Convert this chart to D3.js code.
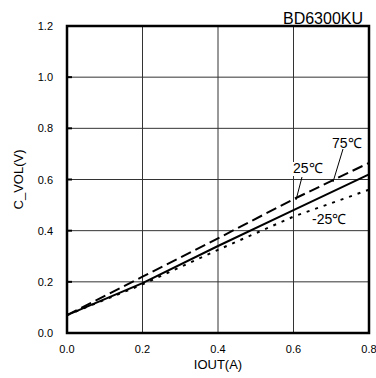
<!DOCTYPE html>
<html>
<head>
<meta charset="utf-8">
<script src="https://cdn.jsdelivr.net/npm/d3@7"></script>
<style>
  body { margin: 0; background: #fff; }
  svg { font-family: "Liberation Sans", Arial, sans-serif; }
</style>
</head>
<body>
<svg id="chart" width="376" height="378"></svg>
<script>
// values
const iout = [0.0, 0.2, 0.4, 0.6, 0.8];
const vol25 = [0.07, 0.195, 0.34, 0.48, 0.62];
const vol75 = [0.07, 0.22, 0.37, 0.523, 0.665];
const volM25 = [0.07, 0.19, 0.325, 0.455, 0.56];
const xTicks = [0.0, 0.2, 0.4, 0.6, 0.8];
const yTicks = [0.0, 0.2, 0.4, 0.6, 0.8, 1.0, 1.2];

const plotL = 67, plotR = 369, plotT = 26, plotB = 333;
const xs = d3.scaleLinear().domain([0, 0.8]).range([plotL, plotR]);
const ys = d3.scaleLinear().domain([0, 1.2]).range([plotB, plotT]);

const svg = d3.select("#chart");

// grid
svg.append("g").selectAll("line").data(xTicks.slice(1, -1)).enter().append("line")
   .attr("x1", d => xs(d)).attr("x2", d => xs(d))
   .attr("y1", plotT).attr("y2", plotB)
   .attr("stroke", "#333").attr("stroke-width", 1);
svg.append("g").selectAll("line").data(yTicks.slice(1, -1)).enter().append("line")
   .attr("x1", plotL).attr("x2", plotR)
   .attr("y1", d => ys(d)).attr("y2", d => ys(d))
   .attr("stroke", "#333").attr("stroke-width", 1);

// small tick marks on left
svg.append("g").selectAll("line").data(yTicks).enter().append("line")
   .attr("x1", plotL).attr("x2", plotL + 5)
   .attr("y1", d => ys(d)).attr("y2", d => ys(d))
   .attr("stroke", "#000").attr("stroke-width", 2);

// tick labels
svg.append("g").selectAll("text").data(yTicks).enter().append("text")
   .attr("x", 53).attr("y", d => ys(d) + 4)
   .attr("text-anchor", "end").attr("font-size", 11)
   .text(d => d.toFixed(1));
svg.append("g").selectAll("text").data(xTicks).enter().append("text")
   .attr("x", d => xs(d)).attr("y", 353)
   .attr("text-anchor", "middle").attr("font-size", 11)
   .text(d => d.toFixed(1));

// axis titles
svg.append("text").attr("x", xs(0.4)).attr("y", 369)
   .attr("text-anchor", "middle").attr("font-size", 13).text("IOUT(A)");
svg.append("text").attr("transform", `translate(23, ${ys(0.6)}) rotate(-90)`)
   .attr("text-anchor", "middle").attr("font-size", 13).text("C_VOL(V)");
svg.append("text").attr("x", 363).attr("y", 24)
   .attr("text-anchor", "end").attr("font-size", 16).text("BD6300KU");

// series
const line = d3.line().x((d, i) => xs(iout[i])).y(d => ys(d));
const series = [
    { vals: vol75, dash: "11,5" },
    { vals: volM25, dash: "3,6" },
    { vals: vol25, dash: null }
];
const lineGrp = svg.append("g");
series.forEach(s => {
    lineGrp.append("path").attr("d", line(s.vals))
        .attr("fill", "none").attr("stroke", "#000").attr("stroke-width", 2)
        .attr("stroke-dasharray", s.dash);
});

// labels with leader lines
const labels = [
    { text: "75℃", x: 332, y: 148, lx1: 343, ly1: 149, lx2: 333, ly2: 182 },
    { text: "25℃", x: 293, y: 173, lx1: 302, ly1: 177, lx2: 296, ly2: 200 },
    { text: "-25℃", x: 312, y: 224, lx1: null }
];
const annoGrp = svg.append("g");
labels.forEach(l => {
    const t = annoGrp.append("text").attr("x", l.x).attr("y", l.y)
        .attr("font-size", 14).text(l.text);
    const bb = t.node().getBBox();
    annoGrp.insert("rect", "text").attr("x", bb.x).attr("y", bb.y + 2)
        .attr("width", bb.width).attr("height", bb.height - 2).attr("fill", "#fff");
    if (l.lx1 !== null) {
        annoGrp.append("line").attr("x1", l.lx1).attr("y1", l.ly1)
            .attr("x2", l.lx2).attr("y2", l.ly2)
            .attr("stroke", "#000").attr("stroke-width", 1);
    }
});

// frame
svg.append("rect").attr("x", plotL).attr("y", plotT)
   .attr("width", plotR - plotL).attr("height", plotB - plotT)
   .attr("fill", "none").attr("stroke", "#000").attr("stroke-width", 2.5);
</script>
</body>
</html>
